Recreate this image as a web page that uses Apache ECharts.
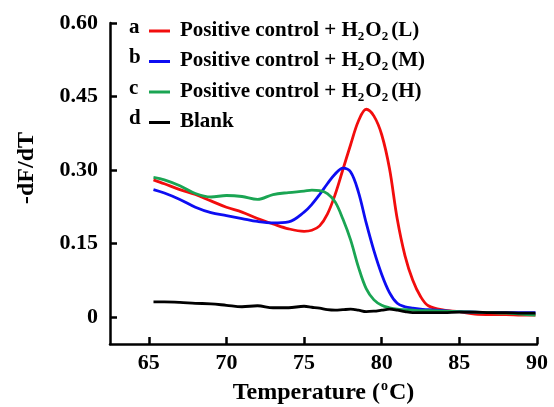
<!DOCTYPE html>
<html>
<head>
<meta charset="utf-8">
<script src="https://cdn.jsdelivr.net/npm/echarts@6/dist/echarts.min.js"></script>
<style>
html,body{margin:0;padding:0;background:#fff;}
#chart{width:554px;height:407px;}
</style>
</head>
<body>
<div id="chart"></div>
<script>
const temps = [65.3, 66, 67, 68, 69, 70, 71, 72, 73, 74, 75, 75.5, 76, 76.5, 77, 77.5, 78, 78.5, 79, 79.5, 80, 80.5, 81, 81.5, 82, 82.5, 83, 84, 85, 86, 87, 88, 89, 89.9];
const seriesL = [0.280, 0.272, 0.260, 0.250, 0.237, 0.224, 0.214, 0.201, 0.190, 0.180, 0.175, 0.177, 0.186, 0.210, 0.250, 0.301, 0.352, 0.400, 0.424, 0.410, 0.372, 0.303, 0.200, 0.125, 0.075, 0.042, 0.023, 0.014, 0.011, 0.006, 0.005, 0.005, 0.004, 0.004];
const seriesM = [0.260, 0.253, 0.240, 0.224, 0.213, 0.207, 0.201, 0.195, 0.192, 0.194, 0.214, 0.230, 0.250, 0.272, 0.292, 0.304, 0.296, 0.255, 0.192, 0.135, 0.087, 0.050, 0.028, 0.021, 0.018, 0.016, 0.015, 0.013, 0.011, 0.010, 0.009, 0.009, 0.009, 0.009];
const seriesH = [0.285, 0.280, 0.268, 0.252, 0.245, 0.248, 0.246, 0.240, 0.250, 0.254, 0.257, 0.259, 0.258, 0.252, 0.235, 0.200, 0.157, 0.102, 0.058, 0.035, 0.024, 0.019, 0.016, 0.015, 0.014, 0.013, 0.013, 0.012, 0.011, 0.010, 0.009, 0.008, 0.006, 0.004];
const seriesBlank = [0.031, 0.031, 0.030, 0.028, 0.027, 0.024, 0.021, 0.023, 0.019, 0.019, 0.022, 0.020, 0.018, 0.015, 0.014, 0.015, 0.016, 0.014, 0.011, 0.012, 0.014, 0.016, 0.014, 0.011, 0.009, 0.009, 0.009, 0.009, 0.010, 0.010, 0.009, 0.009, 0.008, 0.008];
const xTicks = [65, 70, 75, 80, 85, 90];
const yTicks = [0, 0.15, 0.30, 0.45, 0.60];
const seriesNames = ['L', 'M', 'H', 'Blank'];
const legendLetters = ['a', 'b', 'c', 'd'];

const FONT = "'Liberation Serif', 'Times New Roman', serif";
const colors = ['#f20d0d', '#0d0df2', '#1aa553', '#000000'];
const allData = [seriesL, seriesM, seriesH, seriesBlank];

const chart = echarts.init(document.getElementById('chart'));
const series = allData.map((arr, i) => ({
  name: seriesNames[i],
  type: 'line',
  smooth: 0.35,
  symbol: 'none',
  data: temps.map((t, j) => [t, arr[j]]),
  lineStyle: { color: colors[i], width: 2.8 },
  itemStyle: { color: colors[i] },
  z: 2 + i
}));

const baseText = { fontFamily: FONT, fontWeight: 'bold', fontSize: 21, color: '#000', lineHeight: 20 };
chart.setOption({
  animation: false,
  backgroundColor: '#fff',
  grid: { left: 110, right: 17, top: 23, bottom: 63, containLabel: false, outerBoundsMode: 'none' },
  xAxis: {
    type: 'value', min: 62.5, max: 90,
    axisLine: { show: true, onZero: false, lineStyle: { color: '#000', width: 2.5 } },
    axisTick: { show: true, inside: true, length: 7, lineStyle: { color: '#000', width: 2.5 }, customValues: xTicks },
    axisLabel: { customValues: xTicks, fontFamily: FONT, fontWeight: 'bold', fontSize: 22, color: '#000', margin: 8 },
    splitLine: { show: false },
    name: '{a|Temperature (}{s|o}{a|C)}',
    nameLocation: 'middle', nameGap: 30,
    nameTextStyle: {
      rich: {
        a: { fontFamily: FONT, fontWeight: 'bold', fontSize: 24, color: '#000', lineHeight: 26, verticalAlign: 'bottom' },
        s: { fontFamily: FONT, fontWeight: 'bold', fontSize: 14, color: '#000', lineHeight: 26, verticalAlign: 'top', padding: [0, 1, 0, 1] }
      }
    }
  },
  yAxis: {
    type: 'value', min: -0.055, max: 0.60,
    axisLine: { show: true, onZero: false, lineStyle: { color: '#000', width: 2.5 } },
    axisTick: { show: true, inside: true, length: 7, lineStyle: { color: '#000', width: 2.5 }, customValues: yTicks },
    axisLabel: {
      customValues: yTicks, fontFamily: FONT, fontWeight: 'bold', fontSize: 22, color: '#000', margin: 12,
      formatter: v => (Math.abs(v) < 1e-9 ? '0' : v.toFixed(2))
    },
    splitLine: { show: false }
  },
  legend: {
    orient: 'vertical', left: 144, top: 15,
    itemWidth: 21, itemHeight: 3, itemGap: 7.5,
    icon: 'rect',
    data: seriesNames,
    selectedMode: false,
    formatter: name => name === 'Blank'
      ? '{t|Blank}'
      : '{t|Positive control + H}{s|2}{t|O}{s|2}{g| }{t|(' + name + ')}',
    textStyle: {
      padding: [0, 0, 0, 5],
      rich: {
        t: Object.assign({}, baseText, { verticalAlign: 'bottom' }),
        g: { fontFamily: FONT, fontSize: 8, lineHeight: 13, verticalAlign: 'bottom' },
        s: { fontFamily: FONT, fontWeight: 'bold', fontSize: 13, color: '#000', lineHeight: 13, verticalAlign: 'bottom', padding: [0, 1, -2, 0] }
      }
    }
  },
  graphic: legendLetters.map((l, i) => ({
    type: 'text', left: 129, top: 17 + i * 30.5,
    style: { text: l, fontFamily: FONT, fontWeight: 'bold', fontSize: 21, fill: '#000' }
  })).concat([{
    type: 'text', x: 27, y: 168, rotation: Math.PI / 2, originX: 0, originY: 0,
    style: { text: '-dF/dT', fontFamily: FONT, fontWeight: 'bold', fontSize: 24, fill: '#000', align: 'center', verticalAlign: 'middle' }
  }]),
  series: series
});
</script>
</body>
</html>
